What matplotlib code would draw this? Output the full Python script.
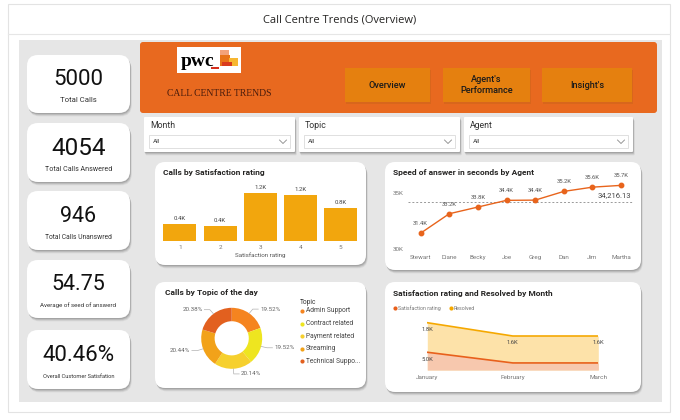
import matplotlib
matplotlib.use("Agg")
import matplotlib.pyplot as plt
from matplotlib.patches import FancyBboxPatch, Rectangle
import numpy as np

plt.rcParams['font.family'] = ['Roboto', 'DejaVu Sans']

# ---------------- data ----------------
page_title = "Call Centre Trends (Overview)"
banner_title = "CALL CENTRE TRENDS"
kpi_values = ["5000", "4054", "946", "54.75", "40.46%"]
kpi_labels = ["Total Calls", "Total Calls Answered", "Total Calls Unanswred",
              "Average of seed of answerd", "Overall Customer Satisfation"]
nav_buttons = ["Overview", "Agent's\nPerformance", "Insight's"]
filter_names = ["Month", "Topic", "Agent"]
filter_values = ["All", "All", "All"]

ratings = ["1", "2", "3", "4", "5"]
calls_by_rating = [430, 395, 1240, 1190, 845]

agents = ["Stewart", "Diane", "Becky", "Joe", "Greg", "Dan", "Jim", "Martha"]
speed_by_agent = [31440, 33180, 33780, 34380, 34400, 35180, 35560, 35720]
speed_average = 34216.13

topics = ["Admin Support", "Contract related", "Payment related", "Streaming", "Technical Support"]
topic_share = [19.52, 19.52, 20.14, 20.44, 20.38]

months = ["January", "February", "March"]
satisfaction_by_month = [5000, 4350, 4350]
resolved_by_month = [1800, 1640, 1640]

# ---------------- styles ----------------
W, H = 680, 420
ORANGE = '#E8691F'
BTN = '#E5800F'
BAR = '#F2A60D'
LINE = '#E8641C'
TOPIC_COLORS = ['#F5841F', '#EEE520', '#F6D02E', '#F2A219', '#E2601F']
SAT_C, SAT_F = '#E8601C', '#F7C8AE'
RES_C, RES_F = '#F5A800', '#FDE2A9'
TXT = '#252423'
GREY = '#777777'

fig = plt.figure(figsize=(6.8, 4.2), dpi=100)
fig.patch.set_facecolor('white')
bg = fig.add_axes([0, 0, 1, 1])
bg.set_xlim(0, W)
bg.set_ylim(H, 0)
bg.axis('off')


def pax(x0, y0, x1, y1):
    a = fig.add_axes([x0 / W, 1 - y1 / H, (x1 - x0) / W, (y1 - y0) / H])
    a.set_facecolor('none')
    return a


def rbox(x0, y0, x1, y1, r, fc, z=2, ec='none', lw=0):
    bg.add_patch(FancyBboxPatch((x0, y0), x1 - x0, y1 - y0,
                                boxstyle=f"round,pad=0,rounding_size={r}",
                                fc=fc, ec=ec, lw=lw, zorder=z))


def card(x0, y0, x1, y1, r=10, fc='white', z=2, shadow=True):
    if shadow:
        for d, a in [(3.4, 0.05), (2.6, 0.07), (1.8, 0.09), (1.0, 0.10)]:
            bg.add_patch(FancyBboxPatch((x0 + d * 0.5, y0 + d), x1 - x0, y1 - y0,
                                        boxstyle=f"round,pad=0,rounding_size={r}",
                                        fc='black', ec='none', alpha=a, zorder=z - 0.5))
    rbox(x0, y0, x1, y1, r, fc, z)


# outer frame + title
bg.add_patch(Rectangle((8, 4), 662, 408, fc='white', ec='#e3e3e3', lw=0.8, zorder=0))
bg.plot([8, 670], [34, 34], color='#e6e6e6', lw=0.8, zorder=1)
bg.text(340, 20, page_title, ha='center', va='center', fontsize=8,
        family=['Open Sans', 'DejaVu Sans'], color=TXT)

# canvas
bg.add_patch(Rectangle((19, 40), 643, 362, fc='#E6E6E6', ec='none', zorder=1))

# banner
rbox(140, 42, 657, 113, 3, ORANGE, z=2)
# logo
bg.add_patch(Rectangle((177, 47), 64, 26, fc='white', ec='none', zorder=3))
bg.text(180.5, 66, "pwc", ha='left', va='baseline', fontsize=14, fontweight='bold',
        family=['Liberation Serif', 'DejaVu Serif'], color='black', zorder=4)
bg.add_patch(Rectangle((220, 50), 9, 6, fc='#F3A27A', ec='none', zorder=4))
bg.add_patch(Rectangle((220, 55), 10, 11, fc='#E8731A', ec='none', zorder=4))
bg.add_patch(Rectangle((229, 58), 9, 8, fc='#F7B731', ec='none', zorder=4))
bg.add_patch(Rectangle((222, 62), 10, 4, fc='#D93B1E', ec='none', zorder=4))
bg.add_patch(Rectangle((210.5, 67), 8, 2, fc='#D62F1E', ec='none', zorder=4))
bg.text(219, 93, banner_title, ha='center', va='center', fontsize=6.9,
        family=['Liberation Serif', 'DejaVu Serif'], color='#4A1C0C', zorder=4)

# nav buttons
btn_x = [(345, 430), (443, 530), (542, 632)]
for (x0, x1), lab in zip(btn_x, nav_buttons):
    bg.add_patch(Rectangle((x0 + 1, 69.5), x1 - x0, 34, fc='#C9641A', ec='none', alpha=0.5, zorder=3))
    bg.add_patch(Rectangle((x0, 68), x1 - x0, 34, fc=BTN, ec='none', zorder=3.5))
    bg.text((x0 + x1) / 2, 85, lab, ha='center', va='center', fontsize=6.6,
            fontweight='medium', color='#1a1a1a', linespacing=1.15, zorder=4)

# filters
filt_x = [(144, 295), (299, 460), (464, 633)]
for (x0, x1), name, val in zip(filt_x, filter_names, filter_values):
    card(x0, 117, x1, 152, r=1, z=2)
    bg.text(x0 + 6, 126, name, ha='left', va='center', fontsize=6.3, color='#333333', zorder=4)
    bg.add_patch(Rectangle((x0 + 5, 135), x1 - x0 - 10, 13, fc='white', ec='#dadada', lw=0.6, zorder=3))
    bg.text(x0 + 9, 141.5, val, ha='left', va='center', fontsize=4.6, color='#444444', zorder=4)
    cx = x1 - 12
    bg.plot([cx - 3.5, cx, cx + 3.5], [140, 143.5, 140], color='#888888', lw=0.6, zorder=4)

# KPI cards
kpi_boxes = [(55, 113), (123, 182), (191, 250), (260, 318), (330, 389)]
kpi_sizes = [16, 17.5, 15.5, 15.5, 16]
kpi_lsizes = [5.6, 5.1, 4.9, 4.4, 4.1]
for (y0, y1), v, lab, s, ls in zip(kpi_boxes, kpi_values, kpi_labels, kpi_sizes, kpi_lsizes):
    card(27, y0, 130, y1, r=11, z=2)
    h = y1 - y0
    bg.text(78.5, y0 + h * 0.43, v, ha='center', va='center', fontsize=s, color='#111111', zorder=4)
    bg.text(78.5, y0 + h * 0.78, lab, ha='center', va='center', fontsize=ls, color='#333333', zorder=4)

# chart cards
card(155, 162, 366, 265, r=10, z=2)
card(385, 162, 641, 270, r=10, z=2)
card(155, 282, 366, 388, r=10, z=2)
card(385, 282, 641, 392, r=10, z=2)

TSIZE = 6.0
bg.text(163, 172, "Calls by Satisfaction rating", ha='left', va='center', fontsize=TSIZE,
        fontweight='bold', color=TXT, zorder=4)
bg.text(393, 172, "Speed of answer in seconds by Agent", ha='left', va='center', fontsize=TSIZE,
        fontweight='bold', color=TXT, zorder=4)
bg.text(165, 292, "Calls by Topic of the day", ha='left', va='center', fontsize=TSIZE,
        fontweight='bold', color=TXT, zorder=4)
bg.text(393, 293.5, "Satisfaction rating and Resolved by Month", ha='left', va='center', fontsize=TSIZE,
        fontweight='bold', color=TXT, zorder=4)


def kfmt(v):
    return f"{v / 1000:.1f}K"


# ---- bar chart
ax = pax(159.7, 185, 360.8, 240.7)
xs = np.arange(len(ratings))
bars = ax.bar(xs, calls_by_rating, width=0.82, color=BAR)
ax.set_xlim(-0.5, len(ratings) - 0.5)
ax.set_ylim(0, 1457)
ax.bar_label(bars, labels=[kfmt(v) for v in calls_by_rating], padding=2.2, fontsize=4.3, color='#444444')
ax.set_xticks(xs, ratings)
ax.tick_params(axis='x', length=0, pad=3, labelsize=4.6, labelcolor=GREY)
ax.set_yticks([])
ax.set_xlabel("Satisfaction rating", fontsize=4.5, color='#555555', labelpad=2)
for sp in ax.spines.values():
    sp.set_visible(False)

# ---- speed line chart
ax = pax(407.7, 180, 634, 249.3)
xs = np.arange(len(agents))
ax.plot(xs, speed_by_agent, color=LINE, lw=1.0, marker='o', ms=3.2, zorder=3)
ax.axhline(speed_average, color='#999999', lw=0.7, ls=(0, (2, 2)), zorder=2)
ax.set_xlim(-0.45, len(agents) - 0.55)
ax.set_ylim(30000, 36200)
for x, v in zip(xs, speed_by_agent):
    ax.annotate(kfmt(v), (x, v), xytext=(0, 5), textcoords='offset points', ha='center',
                va='bottom', fontsize=4.2, color='#555555', annotation_clip=False)
ax.annotate(f"{speed_average:,.2f}", xy=(1, speed_average), xycoords=('axes fraction', 'data'),
            xytext=(-2, 3), textcoords='offset points', ha='right', va='bottom',
            fontsize=5.5, color='#444444')
ax.set_xticks(xs, agents)
ax.set_yticks([30000, 35000], [kfmt(30000).replace('.0', ''), kfmt(35000).replace('.0', '')])
ax.tick_params(axis='both', length=0, labelsize=4.5, labelcolor=GREY)
ax.tick_params(axis='x', pad=4)
ax.tick_params(axis='y', pad=3)
for sp in ax.spines.values():
    sp.set_visible(False)

# ---- donut
cx, cy, r = 231.7, 338.3, 30.5
ax = pax(cx - r, cy - r, cx + r, cy + r)
wedges, _ = ax.pie(topic_share, colors=TOPIC_COLORS, startangle=90, counterclock=False,
                   radius=1, wedgeprops=dict(width=0.44, edgecolor='none'))
ax.set_xlim(-1, 1)
ax.set_ylim(-1, 1)
for w, v in zip(wedges, topic_share):
    th = np.deg2rad((w.theta1 + w.theta2) / 2)
    c, s = np.cos(th), np.sin(th)
    sign = 1 if c >= 0 else -1
    p0 = (1.0 * c, 1.0 * s)
    p1 = (1.2 * c, 1.17 * s)
    p2 = (p1[0] + sign * 0.18, p1[1])
    ax.plot([p0[0], p1[0], p2[0]], [p0[1], p1[1], p2[1]], color='#b0b0b0', lw=0.5, clip_on=False)
    ax.text(p2[0] + sign * 0.06, p2[1], f"{v:.2f}%", ha='left' if sign > 0 else 'right',
            va='center', fontsize=4.5, color='#666666', clip_on=False)

# donut legend
bg.text(299.5, 302, "Topic", ha='left', va='center', fontsize=4.8, color='#333333', zorder=4)
leg_y = [311, 323.5, 336, 348.7, 361.2]
for yy, t, col in zip(leg_y, topics, TOPIC_COLORS):
    lab = t if len(t) <= 16 else t[:15] + "..."
    bg.scatter([302], [yy], s=9, color=col, zorder=4, linewidths=0)
    bg.text(306, yy, lab, ha='left', va='center', fontsize=4.8, color='#444444', zorder=4)

# ---- area chart (stacked)
ax = pax(427.3, 315, 598.3, 370)
xs = np.arange(len(months))
ybase = 3920
sat = np.array(satisfaction_by_month)
top = sat + np.array(resolved_by_month)
ax.fill_between(xs, ybase, top, color=RES_F, lw=0, zorder=1)
ax.fill_between(xs, ybase, sat, color=SAT_F, lw=0, zorder=2)
ax.plot(xs, top, color=RES_C, lw=1.2, zorder=3)
ax.plot(xs, sat, color=SAT_C, lw=1.2, zorder=3)
ax.set_xlim(0, len(months) - 1)
ax.set_ylim(ybase, 7270)
for x, t, rv in zip(xs, top, resolved_by_month):
    ax.annotate(kfmt(rv), (x, t), xytext=(0, -5), textcoords='offset points', ha='center',
                va='center', fontsize=4.2, color='#444444', annotation_clip=False)
ax.annotate(kfmt(sat[0]), (0, sat[0]), xytext=(0, -5), textcoords='offset points', ha='center',
            va='center', fontsize=4.2, color='#444444', annotation_clip=False)
ax.set_xticks(xs, months)
ax.set_yticks([])
ax.tick_params(axis='x', length=0, pad=3.5, labelsize=4.6, labelcolor=GREY)
for sp in ax.spines.values():
    sp.set_visible(False)

# area legend
bg.scatter([395], [308], s=9, color=SAT_C, zorder=4, linewidths=0)
bg.text(398, 308, "Satisfaction rating", ha='left', va='center', fontsize=3.8, color='#777777', zorder=4)
bg.scatter([450.5], [308], s=9, color=RES_C, zorder=4, linewidths=0)
bg.text(453.5, 308, "Resolved", ha='left', va='center', fontsize=3.8, color='#777777', zorder=4)

fig.savefig("out.png", dpi=100, facecolor='white')
